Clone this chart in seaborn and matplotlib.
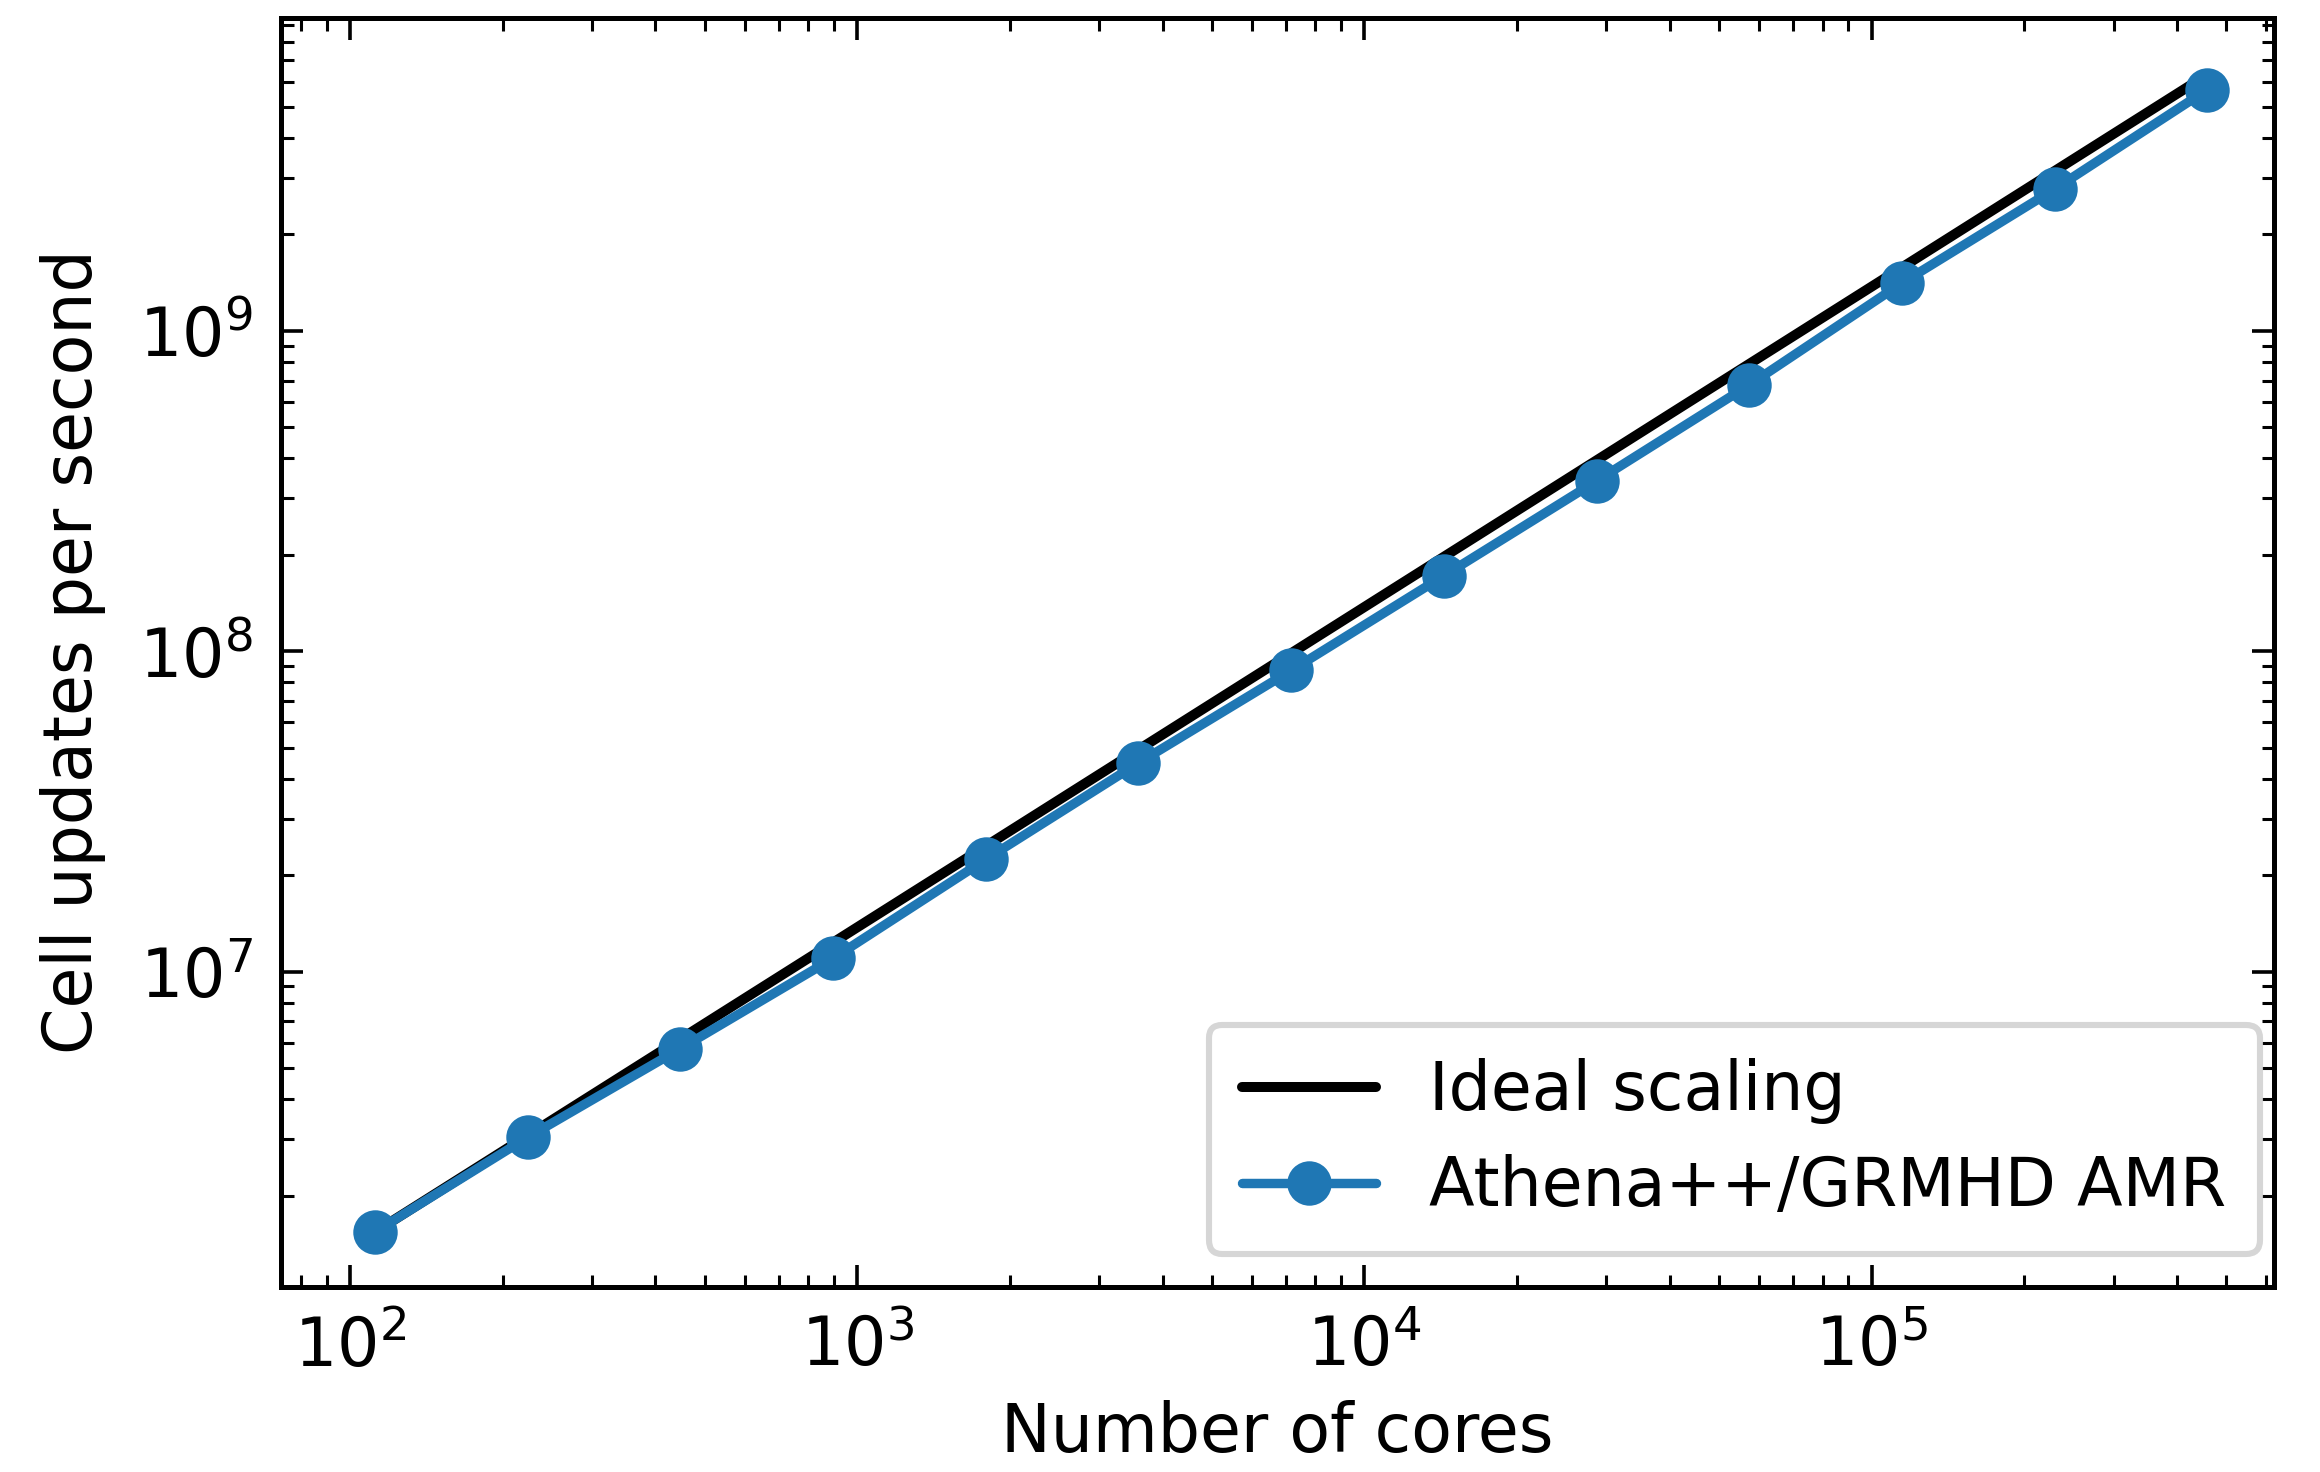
import numpy as np
import pandas as pd
import matplotlib
matplotlib.use("Agg")
import matplotlib.pyplot as plt
import seaborn as sns

# cores used in the weak scaling runs (doubling from 112)
cores = [112, 224, 448, 896, 1792, 3584, 7168, 14336, 28672, 57344, 114688, 229376, 458752]
updates = [1.54e6, 3.04e6, 5.75e6, 1.10e7, 2.24e7, 4.48e7, 8.71e7,
           1.72e8, 3.40e8, 6.78e8, 1.41e9, 2.77e9, 5.66e9]

sns.set_style("ticks")
plt.rcParams["font.family"] = ["DejaVu Sans"]
plt.rcParams.update({
    "text.color": "black", "axes.labelcolor": "black",
    "xtick.color": "black", "ytick.color": "black",
    "axes.edgecolor": "black",
    "xtick.direction": "in", "ytick.direction": "in",
    "xtick.top": True, "ytick.right": True,
    "xtick.major.size": 8, "ytick.major.size": 8,
    "xtick.minor.size": 4.5, "ytick.minor.size": 4.5,
    "xtick.major.width": 1.3, "ytick.major.width": 1.3,
    "xtick.minor.width": 1.1, "ytick.minor.width": 1.1,
    "axes.linewidth": 1.8,
})

df = pd.DataFrame({"cores": cores, "updates": updates})
ideal = df["updates"].iloc[0] * df["cores"] / df["cores"].iloc[0]

fig, ax = plt.subplots(figsize=(11.6, 7.36), dpi=200)
fig.subplots_adjust(left=0.121, right=0.980, top=0.988, bottom=0.126)

ax.plot(df["cores"], ideal, color="black", lw=3.6, label="Ideal scaling")
sns.lineplot(data=df, x="cores", y="updates", ax=ax, color="#1f77b4", lw=3.4,
             marker="o", markersize=16, markeredgewidth=0,
             label="Athena++/GRMHD AMR")

ax.set_xscale("log")
ax.set_yscale("log")
ax.set_xlim(73, 6.2e5)
ax.set_ylim(1.04e6, 9.5e9)
ax.set_xlabel("Number of cores", fontsize=24, labelpad=7)
ax.set_ylabel("Cell updates per second", fontsize=24, labelpad=12)
ax.tick_params(axis="both", which="major", labelsize=24, pad=10)
ax.tick_params(axis="both", which="both", direction="in", top=True, right=True)

leg = ax.legend(loc="lower right", bbox_to_anchor=(0.993, 0.026), borderaxespad=0,
                fontsize=24, frameon=True, fancybox=True,
                handlelength=2.0, borderpad=0.5, labelspacing=0.45)
leg.get_frame().set_edgecolor("#cccccc")
leg.get_frame().set_linewidth(2.2)

fig.savefig("out.png", dpi=200)
